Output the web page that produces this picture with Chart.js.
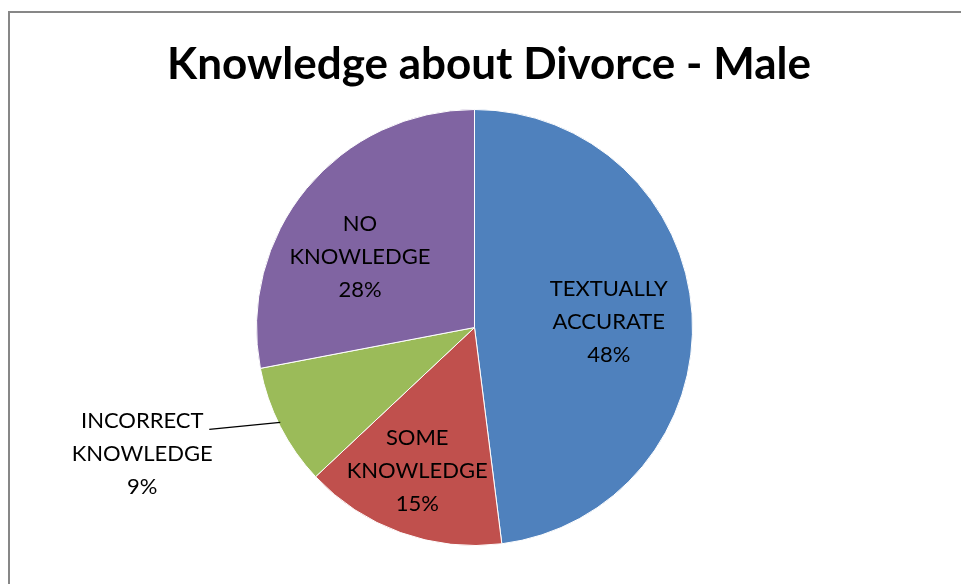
<!DOCTYPE html>
<html>
<head>
<meta charset="utf-8">
<script src="https://cdn.jsdelivr.net/npm/chart.js@4.4.1/dist/chart.umd.min.js"></script>
<style>
  html, body { margin: 0; padding: 0; background: #fff; }
  #wrap { position: relative; width: 961px; height: 584px; }
</style>
</head>
<body>
<div id="wrap"><canvas id="pie" width="961" height="584"></canvas></div>
<script>
const chartTitle = "Knowledge about Divorce - Male";
const categories = ["TEXTUALLY ACCURATE", "SOME KNOWLEDGE", "INCORRECT KNOWLEDGE", "NO KNOWLEDGE"];
const shares = [48, 15, 9, 28];
const sliceColors = ["#4F81BD", "#C0504D", "#9BBB59", "#8064A2"];

const LABEL_FONT = "22px Lato, 'Liberation Sans', sans-serif";
const LINE_H = 33;
// small per-slice tweaks to where the inside labels sit (px)
const labelNudge = [[-5, 3], [-10, 12], [0, 0], [-7, 18]];

// frame, title and the slice labels (small slices get an outside label with a leader line)
const decor = {
  id: 'decor',
  beforeDraw(chart) {
    const c = chart.ctx;
    c.save();
    c.fillStyle = '#fff';
    c.fillRect(0, 0, chart.width, chart.height);
    c.strokeStyle = '#878787';
    c.lineWidth = 2;
    c.strokeRect(9, 12, chart.width + 20, chart.height + 20);
    c.restore();
  },
  afterDatasetsDraw(chart) {
    const c = chart.ctx;
    const arcs = chart.getDatasetMeta(0).data;
    const total = shares.reduce((a, b) => a + b, 0);
    c.save();
    c.fillStyle = '#000';
    c.font = "bold 44px Lato, 'Liberation Sans', sans-serif";
    c.textAlign = 'center';
    c.textBaseline = 'alphabetic';
    c.fillText(chartTitle, 489, 79);

    c.font = LABEL_FONT;
    c.textBaseline = 'middle';
    arcs.forEach((arc, i) => {
      const p = arc.getProps(['x', 'y', 'startAngle', 'endAngle', 'outerRadius'], true);
      const mid = (p.startAngle + p.endAngle) / 2;
      const lines = categories[i].split(' ').concat([Math.round(shares[i] / total * 100) + '%']);
      let cx, cy;
      if (shares[i] / total < 0.1) {
        const ex = p.x + Math.cos(mid) * p.outerRadius;
        const ey = p.y + Math.sin(mid) * p.outerRadius;
        const kx = ex - 71, ky = ey + 3;
        c.strokeStyle = '#000';
        c.lineWidth = 1.3;
        c.beginPath();
        c.moveTo(ex, ey - 4);
        c.lineTo(kx, ky);
        c.stroke();
        cx = kx - 67;
        cy = ky + 24;
      } else {
        cx = p.x + Math.cos(mid) * p.outerRadius * 0.64 + labelNudge[i][0];
        cy = p.y + Math.sin(mid) * p.outerRadius * 0.64 + labelNudge[i][1];
      }
      lines.forEach((t, k) => c.fillText(t, cx, cy + (k - 1) * LINE_H));
    });
    c.restore();
  }
};

new Chart(document.getElementById('pie'), {
  type: 'pie',
  data: {
    labels: categories,
    datasets: [{
      data: shares,
      backgroundColor: sliceColors,
      borderColor: '#ffffff',
      borderWidth: 1
    }]
  },
  options: {
    responsive: false,
    animation: false,
    layout: { padding: { top: 109, bottom: 38, left: 256, right: 268 } },
    plugins: {
      legend: { display: false },
      tooltip: { enabled: false },
      title: { display: false }
    }
  },
  plugins: [decor]
});
</script>
</body>
</html>
